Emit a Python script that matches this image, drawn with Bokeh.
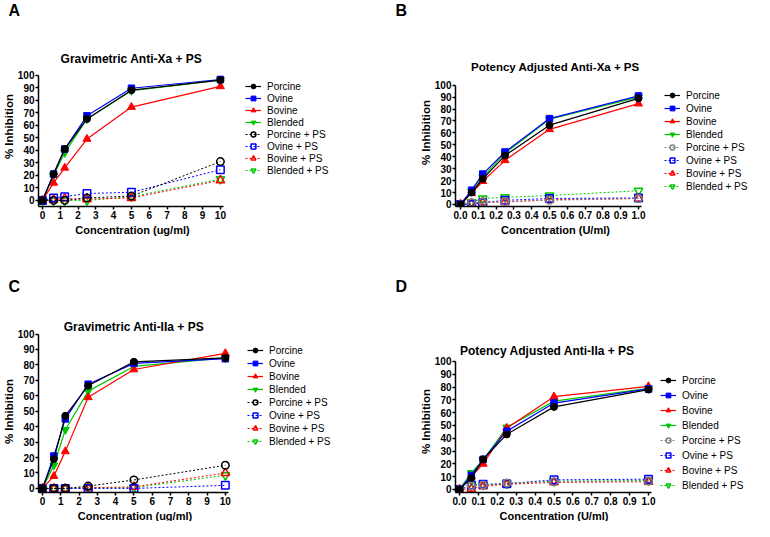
from bokeh.plotting import figure
from bokeh.layouts import column, row
from bokeh.models import Label, Legend, LegendItem, FixedTicker, Range1d, NumeralTickFormatter, Title
from bokeh.embed import file_html
from bokeh.resources import INLINE

SERIES = ["Porcine", "Ovine", "Bovine", "Blended",
          "Porcine + PS", "Ovine + PS", "Bovine + PS", "Blended + PS"]
CONC_UG = [0, 0.625, 1.25, 2.5, 5, 10]
CONC_U = [0, 0.0625, 0.125, 0.25, 0.5, 1.0]
Y_TICKS = [0, 10, 20, 30, 40, 50, 60, 70, 80, 90, 100]
X_TICKS_UG = [0, 1, 2, 3, 4, 5, 6, 7, 8, 9, 10]
X_TICKS_U = [0.0, 0.1, 0.2, 0.3, 0.4, 0.5, 0.6, 0.7, 0.8, 0.9, 1.0]

# Panel A: Gravimetric Anti-Xa + PS
xa_grav_porcine = [0, 21, 41, 65, 88, 96]
xa_grav_ovine = [0, 21, 41, 67.5, 89.5, 96.5]
xa_grav_bovine = [0, 14, 26, 49, 74.5, 91]
xa_grav_blended = [0, 20, 38, 65, 87.5, 96]
xa_grav_porcine_ps = [0, 0, 0, 2, 3.5, 31]
xa_grav_ovine_ps = [0, 2, 3, 5.5, 6.5, 24.5]
xa_grav_bovine_ps = [0, 0.5, 1.5, 1, 2, 16]
xa_grav_blended_ps = [0, 0, 0, 0, 3, 17]

# Panel B: Potency Adjusted Anti-Xa + PS
xa_pot_porcine = [0, 10, 21.5, 41, 66.5, 89]
xa_pot_ovine = [0, 12, 25.5, 44, 72, 91]
xa_pot_bovine = [0, 9.5, 19.5, 37, 63, 84.5]
xa_pot_blended = [0, 11, 23, 43, 71.5, 90]
xa_pot_porcine_ps = [0, 1.5, 2, 2.5, 3.5, 5]
xa_pot_ovine_ps = [0, 0, 1.5, 3.5, 5, 5.5]
xa_pot_bovine_ps = [0, 1, 2, 2, 4, 5]
xa_pot_blended_ps = [0, 2, 5, 6, 7.5, 11.5]

# Panel C: Gravimetric Anti-IIa + PS
iia_grav_porcine = [0, 19, 47, 66.5, 82, 84.5]
iia_grav_ovine = [0, 21, 45, 67.5, 81, 84]
iia_grav_bovine = [0, 8, 24, 59, 77, 87.5]
iia_grav_blended = [0, 15, 38, 63, 79, 84.5]
iia_grav_porcine_ps = [0, 0, 0, 1.5, 5.5, 15]
iia_grav_ovine_ps = [0, 0, 0, 0, 0, 2]
iia_grav_bovine_ps = [0, 0, 0, 0.5, 1, 10]
iia_grav_blended_ps = [0, 0, 0, 0.5, 0.5, 8.5]

# Panel D: Potency Adjusted Anti-IIa + PS
iia_pot_porcine = [0, 9, 23.5, 43, 64.5, 78]
iia_pot_ovine = [0, 11, 23.5, 45.5, 67.5, 78.5]
iia_pot_bovine = [0, 10, 20, 48, 72.5, 80.5]
iia_pot_blended = [0, 13, 23, 48.5, 69, 79]
iia_pot_porcine_ps = [0, 3, 3.5, 5, 6, 6.5]
iia_pot_ovine_ps = [0, 3.5, 4, 4.5, 7.5, 8]
iia_pot_bovine_ps = [0, 0.5, 2.5, 4, 5.5, 6]
iia_pot_blended_ps = [0, 3, 3.5, 4.5, 6.5, 7]

FONT = "Liberation Sans"
GREEN = "#00C800"
MARKERS = ["circle", "square", "triangle", "inverted_triangle"] * 2
FILLED_SIZES = [7, 6.5, 8, 8]
OPEN_SIZES = [7.5, 7.5, 8.5, 8.5]
# approximate text widths (Liberation Sans Bold, em units)
XLABEL_EM = {"Concentration (ug/ml)": 10.389, "Concentration (U/ml)": 9.889}
YLABEL_EM = 5.667


def make_panel(letter, title, xlabel, xs, ys_list, ps_porcine_color, xmax, xticks, numeral,
               geo):
    w, h = geo["w"], geo["h"]
    bl, br, bt, bb = geo["bl"], geo["br"], geo["bt"], geo["bb"]
    page_left, page_top = geo["page_left"], geo["page_top"]
    fl = page_left + bl
    fr = page_left + w - br
    fb = page_top + h - bb
    ft = geo["ft"]
    kx = (geo["x1"] - geo["x0"]) / xmax
    x_start = -(geo["x0"] - fl) / kx
    x_end = (fr - geo["x0"]) / kx
    ky = (geo["y0"] - geo["y100"]) / 100.0
    y_end = 100 + (geo["y100"] - ft) / ky
    y_start = -(fb - geo["y0"]) / ky
    data_cx = (geo["x0"] + geo["x1"]) / 2.0

    p = figure(width=w, height=h, output_backend="svg", toolbar_location=None,
               x_range=Range1d(x_start, x_end), y_range=Range1d(y_start, y_end),
               min_border_left=bl, min_border_right=br, min_border_top=bt, min_border_bottom=bb)
    # panel letter
    p.title.text = letter
    p.title.align = "left"
    p.title.offset = geo["letter_x"] - fl
    p.title.vertical_align = "top"
    p.title.standoff = geo["letter_standoff"]
    p.title.text_font = FONT
    p.title.text_font_size = "16px"
    p.title.text_font_style = "bold"
    p.title.text_color = "black"

    # chart title, centred over the data area
    p.add_layout(Label(x=(geo["title_cx"] - geo["x0"]) / kx, y=fb - geo["title_y"],
                       x_units="data", y_units="screen",
                       text=title, text_font=FONT, text_font_size=geo["title_size"],
                       text_font_style="bold", text_color="black",
                       text_align="center", text_baseline="middle"))

    p.xgrid.visible = False
    p.ygrid.visible = False
    p.outline_line_color = None
    p.background_fill_color = "white"
    p.border_fill_color = "white"

    for ax in (p.xaxis[0], p.yaxis[0]):
        ax.axis_line_width = 1.5
        ax.axis_line_color = "black"
        ax.major_tick_line_width = 1.5
        ax.major_tick_line_color = "black"
        ax.major_tick_out = 3
        ax.major_tick_in = 0
        ax.minor_tick_out = 0
        ax.minor_tick_in = 0
        ax.major_label_text_font = FONT
        ax.major_label_text_font_size = "10px"
        ax.major_label_text_font_style = "bold"
        ax.major_label_text_color = "black"
        ax.major_label_standoff = 1
    p.xaxis[0].bounds = (x_start, xmax + 3.0 / kx)
    p.yaxis[0].bounds = (y_start, 100)
    p.xaxis[0].ticker = FixedTicker(ticks=xticks)
    p.yaxis[0].ticker = FixedTicker(ticks=Y_TICKS)
    if numeral:
        p.xaxis[0].formatter = NumeralTickFormatter(format="0.0")

    # axis titles, placed as side titles so they centre on the data area
    xl_w = XLABEL_EM[xlabel] * 11
    p.add_layout(Title(text=xlabel, align="left",
                       offset=geo["xlab_cx"] - xl_w / 2.0 - fl,
                       standoff=0, text_font=FONT, text_font_size="11px",
                       text_font_style="bold", text_color="black"), "below")
    yl_w = YLABEL_EM * 11.5
    p.add_layout(Title(text="% Inhibition", align="left",
                       offset=(fb - geo["ylab_cy"]) - yl_w / 2.0,
                       standoff=0, text_font=FONT, text_font_size="11.5px",
                       text_font_style="bold", text_color="black"), "left")

    colors = ["black", "blue", "red", GREEN, ps_porcine_color, "blue", "red", GREEN]
    renderers = {}
    for i in [7, 6, 5, 4, 3, 2, 1, 0]:
        ys = ys_list[i]
        c = colors[i]
        if i < 4:
            lr = p.line(xs, ys, line_color=c, line_width=1.2)
            sr = p.scatter(xs, ys, marker=MARKERS[i], size=FILLED_SIZES[i],
                           fill_color=c, line_color=c)
        else:
            lr = p.line(xs, ys, line_color=c, line_width=1, line_dash="2 2")
            sr = p.scatter(xs, ys, marker=MARKERS[i], size=OPEN_SIZES[i - 4],
                           fill_color=None, line_color=c, line_width=1.5)
        renderers[i] = [lr, sr]

    items = [LegendItem(label=SERIES[i], renderers=renderers[i]) for i in range(8)]
    pad = 4
    gh = geo["leg_gh"]
    sp = geo["leg_spacing"]
    lh = 2 * pad + 8 * gh + 7 * sp
    leg_top = geo["leg_first"] - gh / 2.0 - pad
    leg_bottom = leg_top + lh
    legend = Legend(items=items, location=(geo["leg_x"] - pad - fl, fb - leg_bottom),
                    glyph_width=16, glyph_height=gh, label_height=gh, spacing=sp,
                    padding=pad, margin=0, label_standoff=6, label_text_font=FONT,
                    label_text_font_size="10px", label_text_color="black",
                    border_line_color=None, background_fill_alpha=0)
    p.add_layout(legend, "center")
    return p


TOP_ROW = dict(page_top=8, h=272, bt=20, bb=66, ft=30, letter_standoff=0)
BOTTOM_ROW = dict(page_top=280, h=249, bt=20, bb=29, ft=312, letter_standoff=10)
LEFT_COL = dict(page_left=8, w=387, bl=34, br=2)
RIGHT_COL = dict(page_left=395, w=367, bl=68, br=0)

geoA = dict(**TOP_ROW, **LEFT_COL, x0=46, x1=226, y0=208, y100=84, letter_x=12,
            title_y=66, title_cx=136, title_size="12px", xlab_cx=136, ylab_cy=134,
            leg_x=253, leg_first=90, leg_gh=12, leg_spacing=0)
geoB = dict(**TOP_ROW, **RIGHT_COL, x0=468, x1=646, y0=212, y100=94, letter_x=403,
            title_y=74, title_cx=563, title_size="11.5px", xlab_cx=563, ylab_cy=140,
            leg_x=676, leg_first=99, leg_gh=12, leg_spacing=1)
geoC = dict(**BOTTOM_ROW, **LEFT_COL, x0=46, x1=231, y0=496, y100=344, letter_x=12,
            title_y=334, title_cx=138.5, title_size="12px", xlab_cx=138.5, ylab_cy=419,
            leg_x=255, leg_first=354, leg_gh=12, leg_spacing=1)
geoD = dict(**BOTTOM_ROW, **RIGHT_COL, x0=467, x1=656, y0=497, y100=371, letter_x=403,
            title_y=358, title_cx=555, title_size="12px", xlab_cx=561.5, ylab_cy=429,
            leg_x=672, leg_first=384, leg_gh=12, leg_spacing=3)

pA = make_panel("A", "Gravimetric Anti-Xa + PS", "Concentration (ug/ml)", CONC_UG,
                [xa_grav_porcine, xa_grav_ovine, xa_grav_bovine, xa_grav_blended,
                 xa_grav_porcine_ps, xa_grav_ovine_ps, xa_grav_bovine_ps, xa_grav_blended_ps],
                "black", 10, X_TICKS_UG, False, geoA)

pB = make_panel("B", "Potency Adjusted Anti-Xa + PS", "Concentration (U/ml)", CONC_U,
                [xa_pot_porcine, xa_pot_ovine, xa_pot_bovine, xa_pot_blended,
                 xa_pot_porcine_ps, xa_pot_ovine_ps, xa_pot_bovine_ps, xa_pot_blended_ps],
                "gray", 1.0, X_TICKS_U, True, geoB)

pC = make_panel("C", "Gravimetric Anti-IIa + PS", "Concentration (ug/ml)", CONC_UG,
                [iia_grav_porcine, iia_grav_ovine, iia_grav_bovine, iia_grav_blended,
                 iia_grav_porcine_ps, iia_grav_ovine_ps, iia_grav_bovine_ps, iia_grav_blended_ps],
                "black", 10, X_TICKS_UG, False, geoC)

pD = make_panel("D", "Potency Adjusted Anti-IIa + PS", "Concentration (U/ml)", CONC_U,
                [iia_pot_porcine, iia_pot_ovine, iia_pot_bovine, iia_pot_blended,
                 iia_pot_porcine_ps, iia_pot_ovine_ps, iia_pot_bovine_ps, iia_pot_blended_ps],
                "gray", 1.0, X_TICKS_U, True, geoD)

layout = column(row(pA, pB), row(pC, pD))
open("out.html", "w").write(file_html(layout, INLINE))
